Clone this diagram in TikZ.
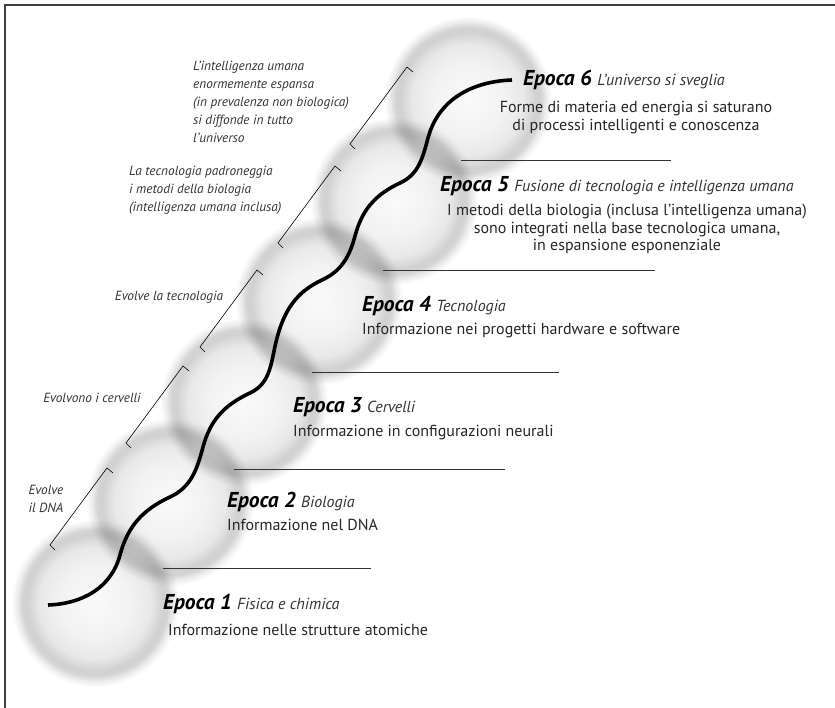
\documentclass[tikz,border=0pt]{standalone}
\usepackage{fontspec}
\setmainfont{PT Sans}
\usetikzlibrary{positioning}

\pgfdeclareradialshading{sfera}{\pgfpoint{0bp}{0bp}}{%
  color(0bp)=(black!2); color(9bp)=(black!5); color(14bp)=(black!9);
  color(17bp)=(black!18); color(18.2bp)=(black!17); color(19.6bp)=(black!7);
  color(21bp)=(white); color(50bp)=(white)}

\newcommand{\sottotitolo}{\fontsize{16}{18}\selectfont\mdseries\itshape\color{black!80}}

\tikzset{
  bolla/.style={shading=sfera, draw=none},
  epoca/.style={anchor=base west, inner sep=0pt,
    font=\fontsize{21.5}{24}\selectfont\bfseries\itshape},
  descr/.style={anchor=base west, inner sep=0pt,
    font=\fontsize{16}{17.5}\selectfont, text=black!85},
  nota/.style={inner sep=0pt, font=\fontsize{13.3}{18}\selectfont\itshape, text=black!80},
  riga/.style={draw=black!80, line width=0.8pt},
  staffa/.style={draw=black, line width=0.6pt},
}

\begin{document}
\begin{tikzpicture}[x=1pt,y=1pt]
\useasboundingbox (0,0) rectangle (835,-708);
\draw[line width=1.2pt, black!75] (5,-708) -- (5,-5) -- (835,-5);

% le bolle
\begin{scope}[blend mode=multiply]
\foreach \x/\y in {95/603,170/502,244/402,319/301,394/201,468/100}
  \shade[bolla] (\x,-\y) circle (100);
\end{scope}

% la curva
\draw[line width=3.6pt] (48,-605) to[out=2,in=255] (120,-555)
  to[out=75,in=205] (170,-497) to[out=25,in=255] (203,-447)
  to[out=75,in=205] (250,-393) to[out=25,in=255] (277,-338)
  to[out=75,in=205] (322,-280) to[out=25,in=255] (355,-236)
  to[out=75,in=205] (400,-183) to[out=25,in=255] (428,-138)
  to[out=75,in=182] (512,-80);

% le righe
\draw[riga] (163,-568) -- (371,-568);
\draw[riga] (234,-469) -- (505,-469);
\draw[riga] (312,-372) -- (559,-372);
\draw[riga] (383,-270) -- (655,-270);
\draw[riga] (461,-160) -- (671,-160);

% le staffe
\foreach \x/\y in {50/545,126/443,200/347,278/243,350/144}
  \draw[staffa] (\x+5,-\y-5) -- (\x,-\y) -- ++(57,77) -- ++(6,-5);

% le epoche
\node[epoca] (e1) at (163,-609) {Epoca 1 {\sottotitolo Fisica e chimica}};
\node[descr] (d1) at (168,-635) {Informazione nelle strutture atomiche};
\node[epoca] (e2) at (227,-507) {Epoca 2 {\sottotitolo Biologia}};
\node[descr] (d2) at (227,-530) {Informazione nel DNA};
\node[epoca] (e3) at (293,-412) {Epoca 3 {\sottotitolo Cervelli}};
\node[descr] (d3) at (293,-436) {Informazione in configurazioni neurali};
\node[epoca] (e4) at (362,-312) {Epoca 4 {\sottotitolo Tecnologia}};
\node[descr] (d4) at (362,-335) {Informazione nei progetti hardware e software};
\node[epoca] (e5) at (440,-192) {Epoca 5 {\sottotitolo Fusione di tecnologia e intelligenza umana}};
\node[descr, anchor=north, align=center] (d5) at (627,-204)
  {I metodi della biologia (inclusa l’intelligenza umana)\\
   sono integrati nella base tecnologica umana,\\
   in espansione esponenziale};
\node[epoca] (e6) at (523,-86) {Epoca 6 {\sottotitolo L’universo si sveglia}};
\node[descr, anchor=north, align=center] (d6) at (636,-101)
  {Forme di materia ed energia si saturano\\
   di processi intelligenti e conoscenza};

% le note
\node[nota, align=center] (n1) at (46,-499) {Evolve\\il DNA};
\node[nota] (n2) at (92,-398) {Evolvono i cervelli};
\node[nota] (n3) at (169,-297) {Evolve la tecnologia};
\node[nota, align=left, anchor=west] (n4) at (129,-190)
  {La tecnologia padroneggia\\i metodi della biologia\\(intelligenza umana inclusa)};
\node[nota, align=left, anchor=west] (n5) at (193,-101.5)
  {L’intelligenza umana\\enormemente espansa\\(in prevalenza non biologica)\\si diffonde in tutto\\l’universo};
\end{tikzpicture}
\end{document}
